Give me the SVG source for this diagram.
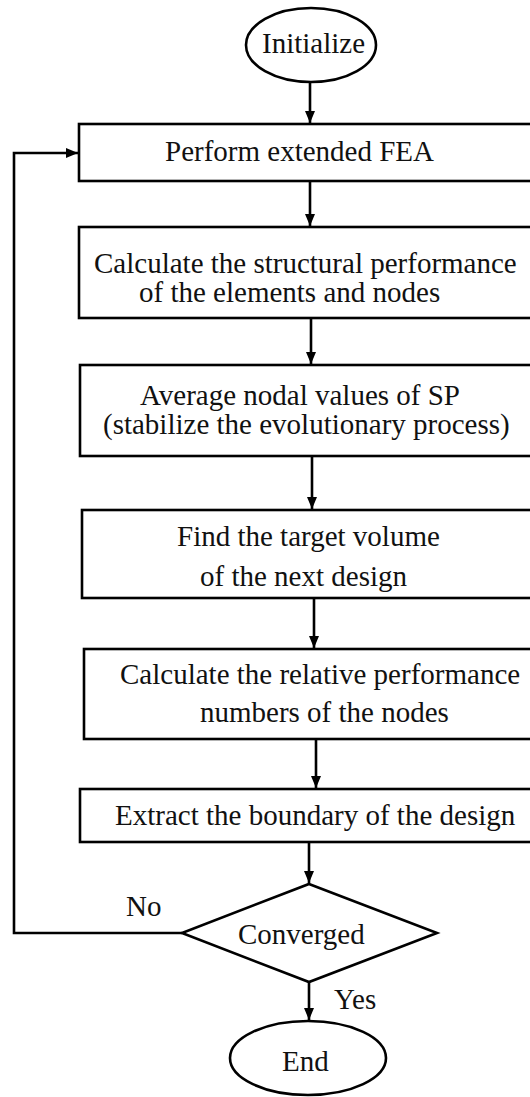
<svg xmlns="http://www.w3.org/2000/svg" width="530" height="1097" viewBox="0 0 530 1097">
<style>
.shape{fill:#fff;stroke:#000;stroke-width:2.6}
.t{font-family:"Liberation Serif","Times New Roman",serif;font-size:29px;fill:#111}
.c{fill:none;stroke:#000;stroke-width:2.6}
</style>
<defs>
<marker id="ah" viewBox="0 0 12 10" refX="12" refY="5" markerWidth="12" markerHeight="10" markerUnits="userSpaceOnUse" orient="auto">
<path d="M0,0 L12,5 L0,10 z" fill="#000"/>
</marker>
</defs>
<rect width="530" height="1097" fill="#fff"/>
<g id="connectors">
<line class="c" x1="310" y1="83" x2="310" y2="123" marker-end="url(#ah)"/>
<line class="c" x1="310" y1="182" x2="310" y2="226" marker-end="url(#ah)"/>
<line class="c" x1="311" y1="319" x2="311" y2="364" marker-end="url(#ah)"/>
<line class="c" x1="312" y1="457" x2="312" y2="509" marker-end="url(#ah)"/>
<line class="c" x1="314" y1="599" x2="314" y2="648" marker-end="url(#ah)"/>
<line class="c" x1="316" y1="740" x2="316" y2="788" marker-end="url(#ah)"/>
<line class="c" x1="309" y1="843" x2="309" y2="883" marker-end="url(#ah)"/>
<line class="c" x1="309" y1="982" x2="309" y2="1020" marker-end="url(#ah)"/>
<polyline class="c" points="182,933 14,933 14,153 78,153" marker-end="url(#ah)"/>
</g>
<g id="initialize">
<ellipse class="shape" cx="311" cy="45" rx="65" ry="37"/>
<text class="t" x="262" y="53">Initialize</text>
</g>
<g id="fea">
<rect class="shape" x="79" y="124" width="470" height="57"/>
<text class="t" x="165" y="161">Perform extended FEA</text>
</g>
<g id="structural">
<rect class="shape" x="79" y="227" width="470" height="91"/>
<text class="t" x="94" y="273">Calculate the structural performance</text>
<text class="t" x="139" y="302">of the elements and nodes</text>
</g>
<g id="average">
<rect class="shape" x="80" y="365" width="470" height="91"/>
<text class="t" x="140" y="405">Average nodal values of SP</text>
<text class="t" x="103" y="434">(stabilize the evolutionary process)</text>
</g>
<g id="target">
<rect class="shape" x="82" y="510" width="470" height="88"/>
<text class="t" x="177" y="546">Find the target volume</text>
<text class="t" x="200" y="586">of the next design</text>
</g>
<g id="relative">
<rect class="shape" x="84" y="649" width="470" height="90"/>
<text class="t" x="120" y="684">Calculate the relative performance</text>
<text class="t" x="200" y="722">numbers of the nodes</text>
</g>
<g id="boundary">
<rect class="shape" x="80" y="789" width="470" height="53"/>
<text class="t" x="115" y="825">Extract the boundary of the design</text>
</g>
<g id="converged">
<polygon class="shape" points="309,884 437,933 309,982 182,933"/>
<text class="t" x="238" y="944">Converged</text>
</g>
<g id="labels">
<text class="t" x="126" y="916">No</text>
<text class="t" x="334" y="1009">Yes</text>
</g>
<g id="end">
<ellipse class="shape" cx="308" cy="1058" rx="78" ry="37"/>
<text class="t" x="282" y="1071">End</text>
</g>
</svg>
